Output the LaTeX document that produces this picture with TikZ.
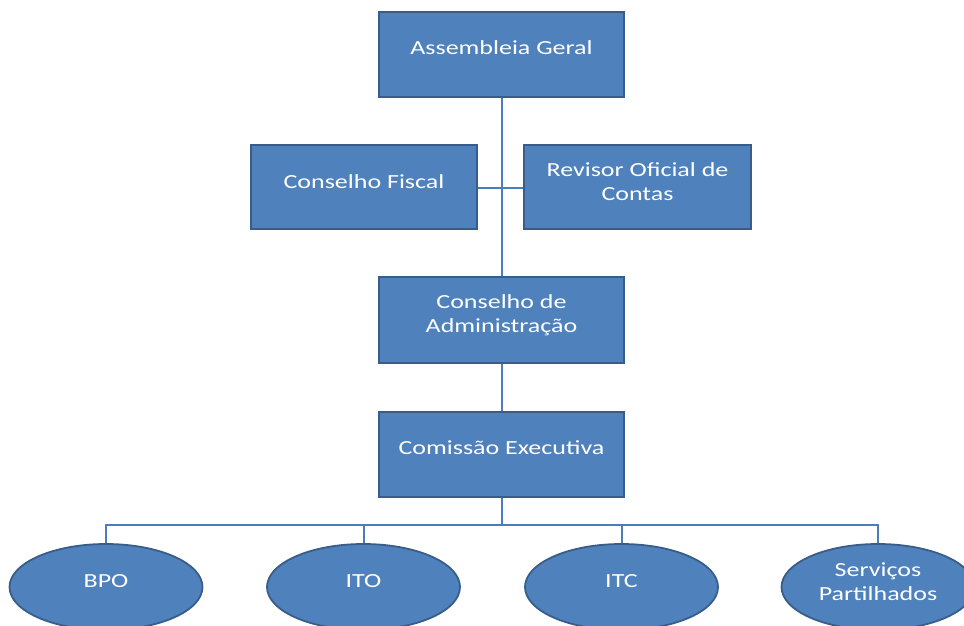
\documentclass[tikz,border=0pt]{standalone}
\usepackage{fontspec}
\setmainfont[FakeStretch=1.3]{Carlito}
\usetikzlibrary{shapes.geometric,backgrounds}
\definecolor{boxfill}{HTML}{4F81BD}
\definecolor{boxline}{HTML}{385D8A}
\definecolor{conn}{HTML}{4A7EBB}
\tikzset{
  orgbox/.style={draw=boxline, fill=boxfill, line width=1.8pt, inner sep=0pt, minimum height=85pt},
  orgoval/.style={ellipse, draw=boxline, fill=boxfill, line width=1.8pt, inner sep=0pt, minimum width=193pt, minimum height=86pt},
  txt/.style={text=white, align=center, font=\fontsize{20}{24.5}\selectfont, inner sep=0pt},
  link/.style={draw=conn, line width=2pt}
}
\begin{document}
\begin{tikzpicture}[x=1pt, y=-1pt]
\useasboundingbox (0,0) rectangle (964,625);
\coordinate (bus) at (501.5,525);
\node[orgbox, minimum width=245pt] (ag) at (501.5,54.5) {};
\node[orgbox, minimum width=226pt, minimum height=84pt] (cf) at (364,187) {};
\node[orgbox, minimum width=227pt, minimum height=84pt] (roc) at (637.5,187) {};
\node[orgbox, minimum width=245pt, minimum height=86pt] (ca) at (501.5,320) {};
\node[orgbox, minimum width=245pt] (ce) at (501.5,454.5) {};
\node[orgoval] (bpo) at (106,587) {};
\node[orgoval] (ito) at (363.5,587) {};
\node[orgoval] (itc) at (621.5,587) {};
\node[orgoval] (sp) at (878,587) {};
\begin{scope}[on background layer]
\path[link] (ag.south) -- (ca.north);
\path[link] (cf.east |- 0,188) -- (roc.west |- 0,188);
\path[link] (ca.south) -- (ce.north);
\path[link] (ce.south) -- (bus);
\path[link] (bus) -| (bpo.north);
\path[link] (bus) -| (ito.north);
\path[link] (bus) -| (itc.north);
\path[link] (bus) -| (sp.north);
\end{scope}
% texts
\node[txt] (tag) at (501.5,48) {Assembleia Geral};
\node[txt] (tcf) at (364,182) {Conselho Fiscal};
\node[txt] (troc) at (637.5,181.5) {Revisor Oficial de\\Contas};
\node[txt] (tca) at (501.5,315) {Conselho de\\Administração};
\node[txt] (tce) at (501.5,448) {Comissão Executiva};
\node[txt] (tbpo) at (106,581) {BPO};
\node[txt] (tito) at (363.5,581) {ITO};
\node[txt] (titc) at (621.5,581) {ITC};
\node[txt] (tsp) at (878,581.5) {Serviços\\Partilhados};
\end{tikzpicture}
\end{document}
